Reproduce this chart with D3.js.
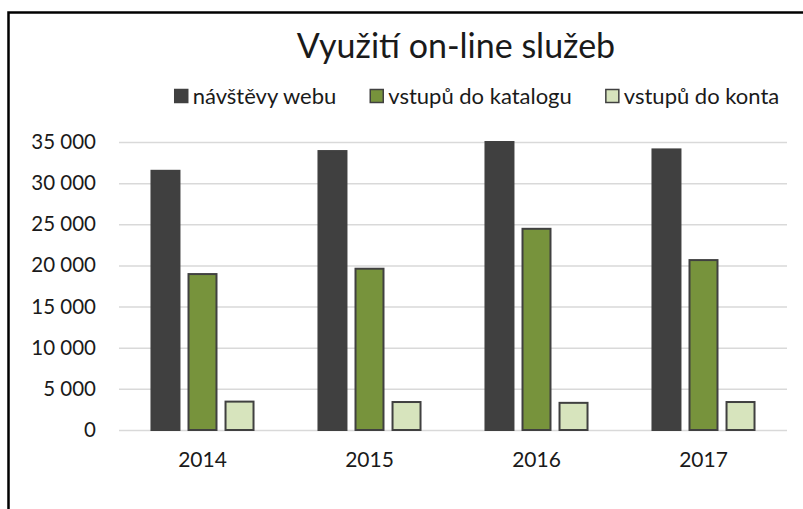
<!DOCTYPE html>
<html>
<head>
<meta charset="utf-8">
<script src="https://cdn.jsdelivr.net/npm/d3@7"></script>
<style>
  body { margin: 0; background: #fff; }
  text { font-family: "Lato", "Open Sans", sans-serif; fill: #1a1a1a; }
</style>
</head>
<body>
<script>
// Chart data
const years = ["2014", "2015", "2016", "2017"];
const seriesNames = ["návštěvy webu", "vstupů do katalogu", "vstupů do konta"];
const webVisits = [31500, 33900, 35100, 34100];
const catalogueVisits = [18950, 19600, 24450, 20650];
const accountVisits = [3450, 3400, 3300, 3400];
const yTicks = [0, 5000, 10000, 15000, 20000, 25000, 30000, 35000];
const colours = ["#404040", "#77933c", "#d7e4bd"];

const width = 803, height = 509;
const plotLeft = 119, plotRight = 787, plotTop = 142, plotBottom = 430;

const svg = d3.select("body").append("svg")
    .attr("width", width)
    .attr("height", height);

// Frame (only top and left edges visible)
svg.append("path")
    .attr("d", `M8.5,${height} V12.5 H${width}`)
    .attr("fill", "none")
    .attr("stroke", "#000")
    .attr("stroke-width", 2.5);

// Title
svg.append("text")
    .attr("x", 456)
    .attr("y", 58)
    .attr("text-anchor", "middle")
    .style("font-size", "34px")
    .text("Využití on-line služeb");

// Scales
const x0 = d3.scaleBand()
    .domain(years)
    .range([plotLeft, plotRight])
    .paddingInner(0.377)
    .paddingOuter(0.1885);
const x1 = d3.scaleBand()
    .domain(seriesNames)
    .range([0, x0.bandwidth()])
    .paddingInner(0.19);
const y = d3.scaleLinear()
    .domain([0, 35000])
    .range([plotBottom, plotTop])
    .clamp(true);

const czFormat = d3.formatLocale({ decimal: ",", thousands: " ", grouping: [3], currency: ["", " Kč"] }).format(",d");

// Gridlines + y labels
const yAxis = svg.append("g")
    .attr("transform", `translate(${plotLeft},0)`)
    .call(d3.axisLeft(y).tickValues(yTicks).tickSize(-(plotRight - plotLeft)).tickPadding(23).tickFormat(czFormat));
yAxis.select(".domain").remove();
yAxis.selectAll(".tick line").attr("stroke", "#d9d9d9").attr("stroke-width", 1.5);
yAxis.selectAll(".tick text").style("font-size", "20.5px").attr("fill", "#1a1a1a").attr("font-family", null);

// Bars
const table = years.map((yr, i) => ({
    year: yr,
    values: [webVisits[i], catalogueVisits[i], accountVisits[i]]
}));

const groups = svg.append("g").selectAll("g")
    .data(table)
    .join("g")
    .attr("transform", d => `translate(${x0(d.year)},0)`);

groups.selectAll("rect")
    .data(d => d.values.map((v, j) => ({ name: seriesNames[j], value: v, idx: j })))
    .join("rect")
    .attr("x", d => x1(d.name) + 1)
    .attr("y", d => y(d.value))
    .attr("width", x1.bandwidth() - 2)
    .attr("height", d => y(0) - y(d.value))
    .attr("fill", d => colours[d.idx])
    .attr("stroke", "#404040")
    .attr("stroke-width", 2);

// X axis labels
const xAxis = svg.append("g")
    .attr("transform", `translate(0,${plotBottom})`)
    .call(d3.axisBottom(x0).tickSize(0).tickPadding(22));
xAxis.select(".domain").remove();
xAxis.selectAll(".tick text").style("font-size", "21px").attr("fill", "#1a1a1a").attr("font-family", null);

// Legend
const legend = svg.append("g").attr("transform", "translate(0,96)");
const items = legend.selectAll("g")
    .data(seriesNames)
    .join("g");
items.append("rect")
    .attr("y", -6.5)
    .attr("width", 13)
    .attr("height", 13)
    .attr("fill", (d, i) => colours[i])
    .attr("stroke", "#404040")
    .attr("stroke-width", 1.5);
items.append("text")
    .attr("x", 18)
    .attr("dy", "0.35em")
    .style("font-size", "22px")
    .text(d => d);

// Lay out legend items centred
const gap = 34;
let widths = [];
items.each(function () { widths.push(this.getBBox().width); });
const total = d3.sum(widths) + gap * (widths.length - 1);
let cx = 477 - total / 2;
items.attr("transform", (d, i) => {
    const t = `translate(${cx},0)`;
    cx += widths[i] + gap;
    return t;
});
</script>
</body>
</html>
